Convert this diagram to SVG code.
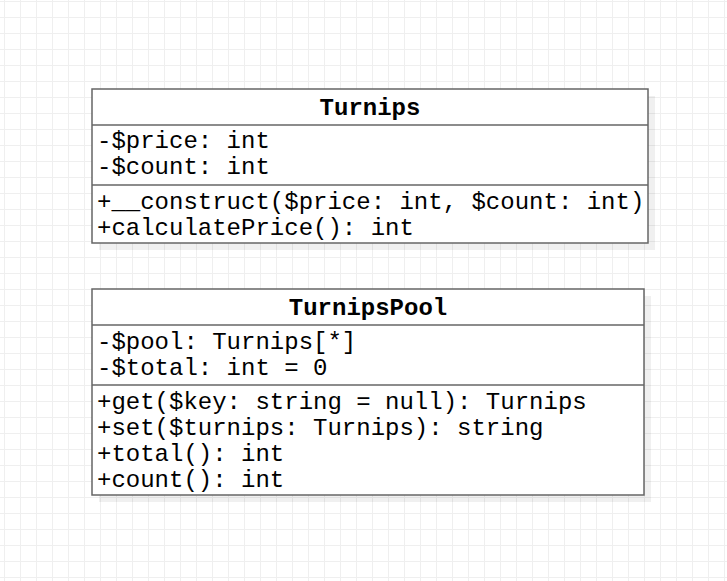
<svg xmlns="http://www.w3.org/2000/svg" width="727" height="581" viewBox="0 0 727 581">
<defs>
<pattern id="grid" x="4" y="1" width="16" height="16" patternUnits="userSpaceOnUse">
<path d="M0.5 0V16M0 0.5H16" fill="none" stroke="#efefef" stroke-width="1"/>
</pattern>
<style>
.box{fill:#fff;stroke:#666;stroke-width:1.5}
.shadow{fill:#000;opacity:0.06}
.div{stroke:#666;stroke-width:1.5}
.t{font-family:"Liberation Mono","DejaVu Sans Mono",monospace;font-size:24px;fill:#000}
.title{font-weight:bold;text-anchor:middle}
</style>
</defs>
<rect width="727" height="581" fill="#fff"/>
<rect width="727" height="581" fill="url(#grid)"/>
<g id="Turnips">
<rect class="shadow" x="99" y="96" width="556" height="154"/>
<rect class="box" x="92" y="89" width="556" height="154"/>
<line class="div" x1="92" y1="125" x2="648" y2="125"/>
<line class="div" x1="92" y1="185" x2="648" y2="185"/>
<text class="t title" x="370" y="115">Turnips</text>
<text class="t" x="97" y="148">-$price: int</text>
<text class="t" x="97" y="174">-$count: int</text>
<text class="t" x="97" y="209">+__construct($price: int, $count: int)</text>
<text class="t" x="97" y="235">+calculatePrice(): int</text>
</g>
<g id="TurnipsPool">
<rect class="shadow" x="99" y="296" width="552" height="206"/>
<rect class="box" x="92" y="289" width="552" height="206"/>
<line class="div" x1="92" y1="325" x2="644" y2="325"/>
<line class="div" x1="92" y1="385" x2="644" y2="385"/>
<text class="t title" x="368" y="315">TurnipsPool</text>
<text class="t" x="97" y="349">-$pool: Turnips[*]</text>
<text class="t" x="97" y="375">-$total: int = 0</text>
<text class="t" x="97" y="409">+get($key: string = null): Turnips</text>
<text class="t" x="97" y="435">+set($turnips: Turnips): string</text>
<text class="t" x="97" y="461">+total(): int</text>
<text class="t" x="97" y="487">+count(): int</text>
</g>
<g id="connectors"/>
</svg>
